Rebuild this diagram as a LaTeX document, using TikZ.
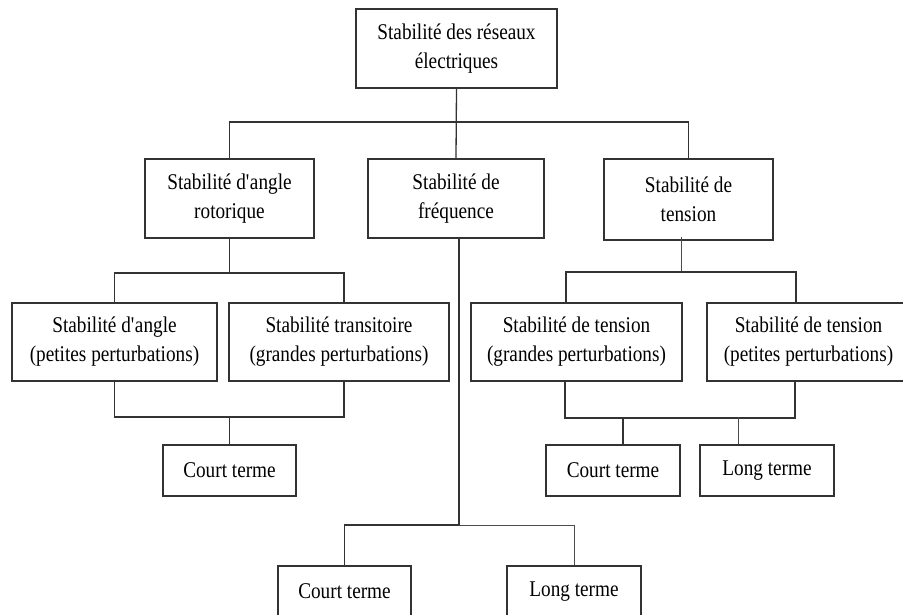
\documentclass[tikz,border=0pt]{standalone}
\usepackage{fontspec}
\setmainfont{Liberation Serif}[FakeStretch=0.855]
\usepackage{tikz}
\usetikzlibrary{calc}

\begin{document}
\begin{tikzpicture} [x=1pt,y=-1pt,
  box/.style={draw=black!80, line width=1.3pt, align=center, inner sep=0pt,
    font=\fontsize{22.5}{29}\selectfont},
  link/.style={draw=black!80, line width=1.3pt},
  fine/.style={draw=black!70, line width=.7pt}]
\useasboundingbox (0,0) rectangle (903,614);

\node[box, minimum width=201, minimum height=79] (top) at (456.5,48.5) {Stabilité des réseaux\\électriques};

\node[box, minimum width=169, minimum height=79] (angle) at (229.5,198.5) {Stabilité d\textquotesingle angle\\rotorique};
\node[box, minimum width=176, minimum height=79] (freq) at (456,198.5) {Stabilité de\\fréquence};
\node[box, minimum width=169, minimum height=81] (tension) at (688.5,199.5) {Stabilité de\\tension};

\node[box, minimum width=205, minimum height=78] (A1) at (114.5,342) {Stabilité d\textquotesingle angle\\(petites perturbations)};
\node[box, minimum width=220, minimum height=78] (A2) at (339,342) {Stabilité transitoire\\(grandes perturbations)};
\node[box, minimum width=211, minimum height=78] (T1) at (576.5,342) {Stabilité de tension\\(grandes perturbations)};
\node[box, minimum width=203, minimum height=78] (T2) at (808.5,342) {Stabilité de tension\\(petites perturbations)};

\node[box, minimum width=133, minimum height=51] (CA) at (229.5,470.5) {Court terme};
\node[box, minimum width=134, minimum height=51] (CT) at (613,470.5) {Court terme};
\node[box, minimum width=134, minimum height=51] (LT) at (767,470.5) {Long terme};

\node[box, minimum width=133, minimum height=51] (CF) at (344.5,591.5) {Court terme};
\node[box, minimum width=134, minimum height=51] (LF) at (574,591.5) {Long terme};

\coordinate (bus1) at (456,122);
\coordinate (busA) at (229.5,273);
\coordinate (busAl) at (229.5,417);
\coordinate (busT) at (681,272);
\coordinate (busTl) at (623,418);
\coordinate (busF) at (459,525);

\draw[link] (top.south) -- (freq.north);
\draw[link] (angle.north) |- (bus1) -| (tension.north);

\draw[link] (angle.south) -- (busA);
\draw[link] (A1.north) |- (busA) -| ([xshift=5]A2.north);
\draw[link] (A1.south) |- (busAl) -| ([xshift=5]A2.south);
\draw[link] (busAl) -- (CA.north);

\draw[fine] ($(busT |- tension.south)+(0,-4)$) -- (busT);
\draw[link] ([xshift=-10.5]T1.north) |- (busT) -| ([xshift=-12.5]T2.north);
\draw[link] ([xshift=-11.5]T1.south) |- (busTl) -| ([xshift=-13.5]T2.south);
\draw[link] (busTl) -- (busTl |- CT.north);
\draw[fine] ([xshift=-29]LT.north) -- ++(0,-27);

\draw[link] (busF |- freq.south) -- (busF);
\draw[link] (CF.north) |- (busF);
\draw[fine] (busF) -| (LF.north);

\end{tikzpicture}
\end{document}
